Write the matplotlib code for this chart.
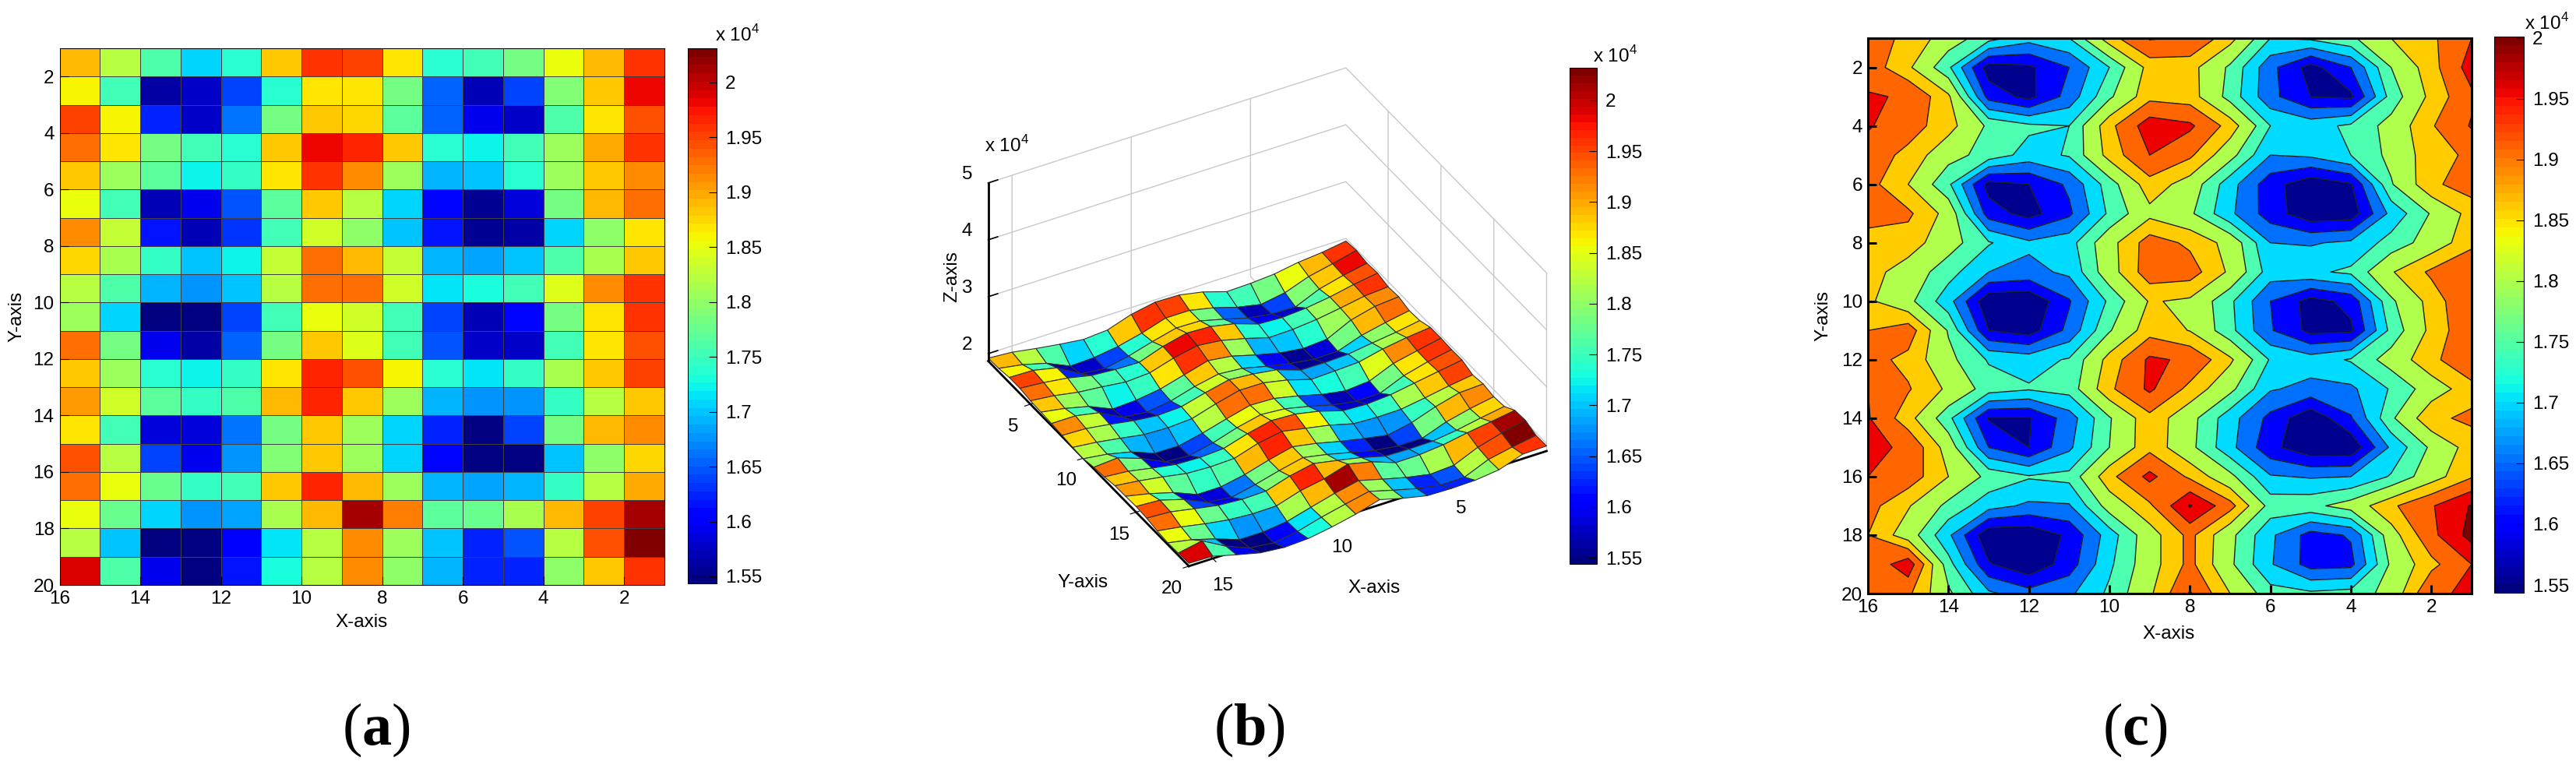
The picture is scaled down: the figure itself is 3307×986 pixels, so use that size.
import matplotlib
matplotlib.use('Agg')
import matplotlib.pyplot as plt
import numpy as np
from matplotlib.cm import ScalarMappable
from matplotlib.colors import Normalize
from mpl_toolkits.mplot3d import Axes3D  # noqa

plt.rcParams['font.family'] = ['Liberation Sans', 'DejaVu Sans']
plt.rcParams['mathtext.fontset'] = 'custom'
plt.rcParams['mathtext.rm'] = 'Liberation Sans'
plt.rcParams['mathtext.bf'] = 'Liberation Serif:bold'

# values in units of 1e4, columns run x = 16 ... 1, rows y = 1 ... 20
row01 = [1.92, 1.89, 1.82, 1.76, 1.71, 1.74, 1.88, 1.96, 1.95, 1.87, 1.74, 1.75, 1.78, 1.85, 1.89, 1.955]
row02 = [1.93, 1.86, 1.75, 1.565, 1.58, 1.64, 1.74, 1.87, 1.87, 1.78, 1.655, 1.57, 1.64, 1.79, 1.88, 1.98]
row03 = [1.96, 1.95, 1.86, 1.62, 1.575, 1.66, 1.78, 1.885, 1.875, 1.77, 1.655, 1.59, 1.58, 1.76, 1.865, 1.945]
row04 = [1.96, 1.925, 1.87, 1.78, 1.75, 1.74, 1.885, 1.985, 1.965, 1.88, 1.74, 1.72, 1.75, 1.81, 1.895, 1.96]
row05 = [1.93, 1.885, 1.81, 1.77, 1.72, 1.745, 1.87, 1.955, 1.91, 1.81, 1.69, 1.70, 1.74, 1.805, 1.88, 1.91]
row06 = [1.92, 1.85, 1.75, 1.57, 1.59, 1.65, 1.765, 1.88, 1.825, 1.71, 1.61, 1.555, 1.585, 1.785, 1.89, 1.925]
row07 = [1.91, 1.91, 1.83, 1.615, 1.57, 1.63, 1.75, 1.835, 1.80, 1.70, 1.615, 1.555, 1.56, 1.705, 1.795, 1.87]
row08 = [1.89, 1.875, 1.815, 1.745, 1.70, 1.72, 1.83, 1.925, 1.89, 1.83, 1.69, 1.685, 1.70, 1.76, 1.815, 1.885]
row09 = [1.87, 1.825, 1.76, 1.69, 1.675, 1.70, 1.825, 1.93, 1.925, 1.84, 1.715, 1.73, 1.75, 1.845, 1.91, 1.955]
row10 = [1.86, 1.805, 1.71, 1.55, 1.545, 1.635, 1.75, 1.855, 1.84, 1.75, 1.64, 1.57, 1.605, 1.78, 1.87, 1.955]
row11 = [1.90, 1.93, 1.785, 1.59, 1.565, 1.655, 1.785, 1.88, 1.848, 1.755, 1.645, 1.575, 1.58, 1.755, 1.865, 1.945]
row12 = [1.92, 1.885, 1.805, 1.735, 1.72, 1.745, 1.87, 1.965, 1.945, 1.86, 1.735, 1.715, 1.745, 1.815, 1.885, 1.95]
row13 = [1.955, 1.905, 1.84, 1.765, 1.745, 1.76, 1.89, 1.965, 1.885, 1.805, 1.695, 1.675, 1.68, 1.745, 1.82, 1.88]
row14 = [1.96, 1.87, 1.755, 1.585, 1.585, 1.665, 1.785, 1.885, 1.81, 1.71, 1.625, 1.55, 1.635, 1.78, 1.89, 1.91]
row15 = [1.97, 1.945, 1.825, 1.64, 1.59, 1.68, 1.79, 1.885, 1.805, 1.705, 1.605, 1.55, 1.55, 1.70, 1.80, 1.875]
row16 = [1.955, 1.93, 1.85, 1.775, 1.745, 1.755, 1.885, 1.97, 1.89, 1.805, 1.695, 1.685, 1.69, 1.745, 1.825, 1.895]
row17 = [1.92, 1.855, 1.775, 1.71, 1.68, 1.685, 1.815, 1.89, 2.015, 1.92, 1.77, 1.775, 1.815, 1.89, 1.95, 2.015]
row18 = [1.90, 1.82, 1.70, 1.55, 1.55, 1.60, 1.715, 1.825, 1.915, 1.805, 1.70, 1.62, 1.645, 1.825, 1.94, 2.03]
row19 = [1.91, 1.99, 1.76, 1.595, 1.55, 1.615, 1.73, 1.825, 1.915, 1.80, 1.695, 1.62, 1.625, 1.80, 1.885, 1.955]
row20 = [1.92, 1.91, 1.80, 1.70, 1.66, 1.68, 1.75, 1.84, 1.96, 1.85, 1.76, 1.75, 1.76, 1.81, 1.95, 1.96]
rows = [row01, row02, row03, row04, row05, row06, row07, row08, row09, row10,
        row11, row12, row13, row14, row15, row16, row17, row18, row19, row20]

x_vals = np.arange(1, 17)
y_vals = np.arange(1, 21)
x_ticks = [16, 14, 12, 10, 8, 6, 4, 2]
y_ticks = [2, 4, 6, 8, 10, 12, 14, 16, 18, 20]
z_ticks = [2, 3, 4, 5]
cbar_ticks = [1.55, 1.6, 1.65, 1.7, 1.75, 1.8, 1.85, 1.9, 1.95, 2]
cbar_labels = ['1.55', '1.6', '1.65', '1.7', '1.75', '1.8', '1.85', '1.9', '1.95', '2']
contour_levels = [1.40, 1.59, 1.64, 1.69, 1.74, 1.79, 1.85, 1.90, 1.955, 2.01, 2.10]
contour_colors = ['#00008f', '#0000ff', '#0070ff', '#00dcff', '#4dffb0',
                  '#b0ff4d', '#ffcc00', '#ff6600', '#ee0000', '#800000']

Z = np.array(rows)[:, ::-1]   # flip so columns run x = 1 ... 16

W, H = 3307, 986
cmap = plt.get_cmap('jet', 64)
norm = Normalize(vmin=1.5436, vmax=2.031)
FS = 17.5
POW = r'x 10$^{4}$'
GRID = '#c8c8c8'


def px_axes(fig, left, top, right, bottom, **kw):
    return fig.add_axes([left / W, 1 - bottom / H, (right - left) / W, (bottom - top) / H], **kw)


def px_text(fig, x, y, s, **kw):
    return fig.text(x / W, 1 - y / H, s, ha='center', va='center', fontsize=FS, **kw)


def add_cbar(fig, box, cnorm, pow_xy):
    cax = px_axes(fig, *box)
    cb = fig.colorbar(ScalarMappable(norm=cnorm, cmap=cmap), cax=cax)
    cb.set_ticks(cbar_ticks, labels=cbar_labels)
    cb.ax.tick_params(direction='in', length=7, width=0.8, labelsize=FS, pad=8)
    cb.outline.set_linewidth(0.8)
    px_text(fig, pow_xy[0], pow_xy[1], POW)
    return cb


def style_2d(ax, lw):
    ax.set_xlim(16, 1)
    ax.set_ylim(20, 1)
    ax.set_xticks(x_ticks)
    ax.set_yticks(y_ticks)
    ax.tick_params(direction='in', length=8, width=lw, labelsize=FS, pad=5)
    for s in ax.spines.values():
        s.set_linewidth(lw)


fig = plt.figure(figsize=(W / 100, H / 100), dpi=100)

# (a) cell map
ax_a = px_axes(fig, 76.5, 62, 853, 751)
ax_a.pcolormesh(x_vals, y_vals, Z[:-1, :-1], cmap=cmap, norm=norm, edgecolors='#404040', linewidth=0.7)
style_2d(ax_a, 0.8)
px_text(fig, 464, 799, 'X-axis')
px_text(fig, 21, 406, 'Y-axis', rotation=90)
add_cbar(fig, (883, 62, 920, 749), norm, (947, 45))

# (b) surface, the rect sets where the projected box lands
ax_b = px_axes(fig, 1230.6, 31.4, 2002.6, 803.4, projection='3d', proj_type='ortho')
ax_b.set_box_aspect((1, 1, 0.53), zoom=1.0)
ax_b.view_init(elev=35, azim=60.7)
ax_b.patch.set_alpha(0)
X, Y = np.meshgrid(x_vals, y_vals)
ax_b.plot_surface(X, Y, Z, rstride=1, cstride=1, facecolors=cmap(norm(Z)),
                  edgecolor='#303030', linewidth=0.8, shade=False, antialiased=True)
ax_b.set_xlim(1, 16)
ax_b.set_ylim(1, 20)
ax_b.set_zlim(1.87, 5)
ax_b.set_xticks([5, 10, 15])
ax_b.set_yticks([5, 10, 15, 20])
ax_b.set_zticks([])
ax_b.tick_params(labelsize=FS, pad=6)
for a in (ax_b.xaxis, ax_b.yaxis, ax_b.zaxis):
    a.set_pane_color((1, 1, 1, 0))
    a.pane.set_edgecolor('#d0d0d0')
    a._axinfo['grid'].update(color=GRID, linewidth=1.0)
    a.line.set_color('black')
    a.line.set_linewidth(2.0)
ax_b.zaxis.line.set_linewidth(0)
# z axis stands on the left corner of the box, its grid runs along the two back walls
ax_b.plot([16, 16], [1, 1], [1.87, 5], color='black', lw=2.0, zorder=20)
for z in z_ticks:
    ax_b.plot([16, 1, 1], [1, 1, 20], [z, z, z], color=GRID, lw=1.0, zorder=0)
    ax_b.plot([16, 15.6], [1, 1], [z, z], color='black', lw=1.2, zorder=20)
    ax_b.text(16, 1, z, f'{z}   ', ha='right', va='bottom', fontsize=FS)
ax_b.set_xlim(1, 16)
ax_b.set_ylim(1, 20)
ax_b.set_zlim(1.87, 5)
px_text(fig, 1764, 755, 'X-axis')
px_text(fig, 1390, 748, 'Y-axis')
px_text(fig, 1222, 355, 'Z-axis', rotation=90)
px_text(fig, 1293, 187, POW)
add_cbar(fig, (2015, 87, 2050, 724), Normalize(vmin=1.5439, vmax=2.032), (2074, 72))

# (c) filled contour
ax_c = px_axes(fig, 2398, 49, 3173, 762)
ax_c.contourf(x_vals, y_vals, Z, levels=contour_levels, colors=contour_colors)
ax_c.contour(x_vals, y_vals, Z, levels=contour_levels[1:-1], colors='#202020', linewidths=1.0)
style_2d(ax_c, 2.2)
px_text(fig, 2784, 814, 'X-axis')
px_text(fig, 2340, 405, 'Y-axis', rotation=90)
add_cbar(fig, (3202, 47, 3240, 761), Normalize(vmin=1.5436, vmax=2.001), (3270, 30))

# panel letters
for px, letter in zip([483, 1604, 2741], ['a', 'b', 'c']):
    fig.text(px / W, 1 - 937 / H, '($\\mathbf{%s}$)' % letter, ha='center', va='center',
             fontsize=55, family='Liberation Serif')

fig.savefig('out.png', dpi=100)
plt.close(fig)
